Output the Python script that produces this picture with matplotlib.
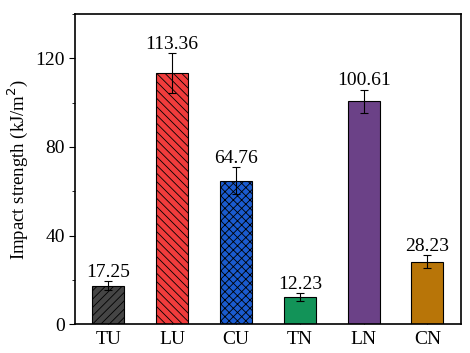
import matplotlib
matplotlib.use("Agg")
import matplotlib.pyplot as plt
from matplotlib.ticker import MultipleLocator

plt.rcParams['font.family'] = ['Liberation Serif', 'DejaVu Serif']
plt.rcParams['hatch.linewidth'] = 0.6

labels = ['TU', 'LU', 'CU', 'TN', 'LN', 'CN']
values = [17.25, 113.36, 64.76, 12.23, 100.61, 28.23]
errors = [2.0, 9.0, 6.0, 1.6, 5.3, 2.8]
colors = ['#454545', '#f03c3c', '#1a5bd0', '#129358', '#6b4187', '#b87508']
hatches = ['////', '\\\\\\\\', 'xxxx', '', '', '']

fig, ax = plt.subplots(figsize=(4.7, 3.53), dpi=100)
x = range(len(labels))
for i in x:
    ax.bar(i, values[i], width=0.5, color=colors[i], edgecolor='black',
           linewidth=0.8, hatch=hatches[i], zorder=2)
    ax.errorbar(i, values[i], yerr=errors[i], fmt='none', ecolor='black',
                elinewidth=0.8, capsize=3, capthick=0.8, zorder=3)
    ax.text(i, values[i] + errors[i] + 0.3, f'{values[i]:.2f}', ha='center',
            va='bottom', fontsize=14)

ax.set_xticks(list(x))
ax.set_xticklabels(labels, fontsize=14)
ax.set_xlim(-0.52, 5.52)
ax.set_ylim(0, 140)
ax.yaxis.set_major_locator(MultipleLocator(40))
ax.yaxis.set_minor_locator(MultipleLocator(20))
ax.tick_params(axis='y', which='major', direction='out', length=4, labelsize=14)
ax.tick_params(axis='y', which='minor', direction='out', length=2)
ax.tick_params(axis='x', direction='in', length=3, labelsize=14, pad=5)
ax.set_ylabel('Impact strength (kJ/m$^2$)', fontsize=13.5)
for s in ax.spines.values():
    s.set_linewidth(1.2)

fig.subplots_adjust(left=0.16, right=0.98, top=0.96, bottom=0.082)
fig.savefig('out.png', dpi=100)
